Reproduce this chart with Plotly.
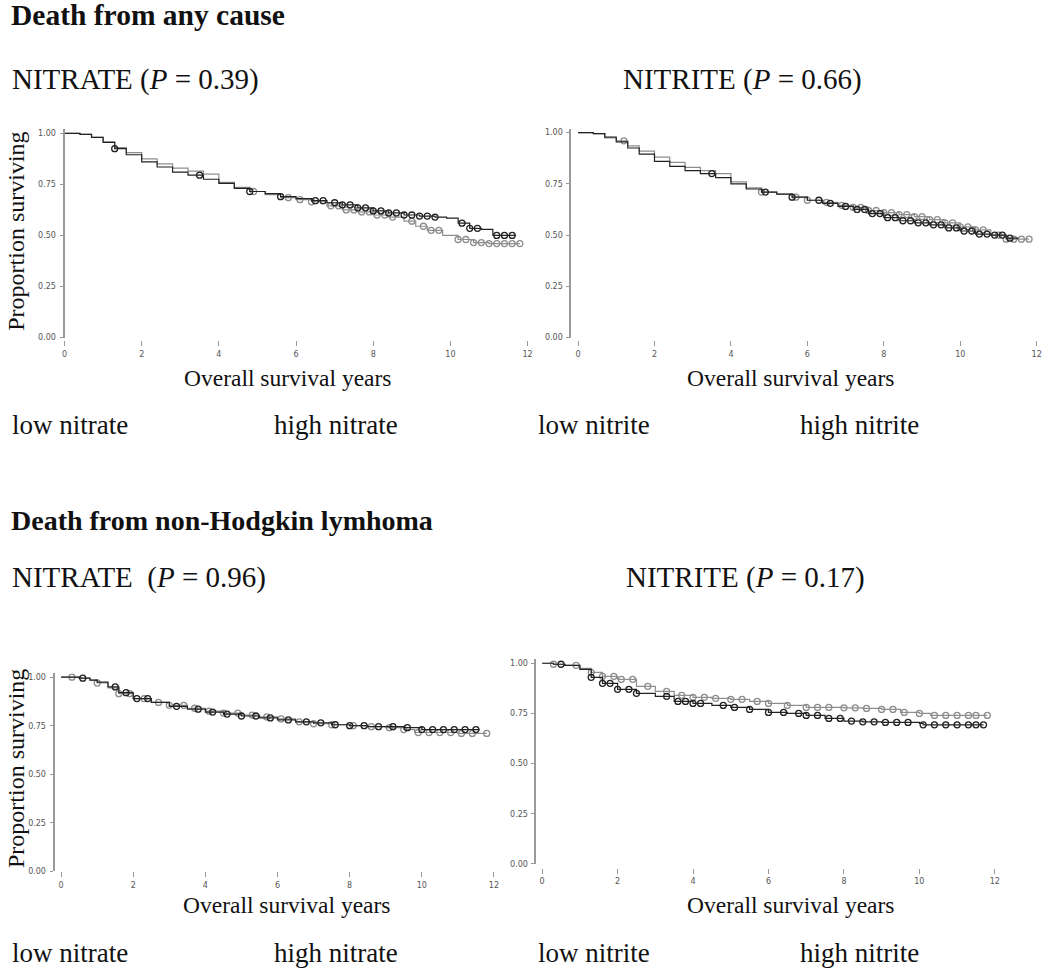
import numpy as np
import plotly.graph_objects as go

# ---------------- data ----------------
# Panel A: death from any cause, nitrate
a_low_t = [0, 0.4, 0.7, 1.0, 1.3, 1.6, 2.0, 2.4, 2.8, 3.2, 3.6, 4.0, 4.4, 4.8, 5.2, 5.6, 6.0, 6.4, 6.8, 7.2, 7.6, 8.0, 8.4, 8.8, 9.2, 9.6, 9.9, 10.2, 10.5, 10.8, 11.1, 11.7]
a_low_s = [1.0, 0.995, 0.98, 0.955, 0.925, 0.895, 0.86, 0.835, 0.81, 0.795, 0.775, 0.755, 0.73, 0.715, 0.705, 0.69, 0.68, 0.67, 0.66, 0.65, 0.635, 0.62, 0.61, 0.60, 0.595, 0.59, 0.585, 0.56, 0.535, 0.53, 0.50, 0.50]
a_high_t = [0, 0.4, 0.7, 1.0, 1.3, 1.6, 2.0, 2.4, 2.8, 3.2, 3.6, 4.0, 4.4, 4.8, 5.2, 5.6, 6.0, 6.4, 6.8, 7.2, 7.6, 8.0, 8.4, 8.8, 9.1, 9.4, 9.8, 10.2, 10.6, 11.0, 11.8]
a_high_s = [1.0, 0.995, 0.98, 0.96, 0.93, 0.905, 0.875, 0.85, 0.83, 0.815, 0.80, 0.76, 0.735, 0.715, 0.70, 0.685, 0.675, 0.665, 0.645, 0.625, 0.615, 0.60, 0.59, 0.57, 0.545, 0.525, 0.50, 0.48, 0.465, 0.46, 0.46]
a_low_cens = [1.3, 3.5, 4.8, 5.6, 6.5, 6.7, 7.0, 7.2, 7.4, 7.6, 7.8, 8.0, 8.2, 8.4, 8.6, 8.8, 9.0, 9.2, 9.4, 9.6, 10.3, 10.5, 10.7, 11.2, 11.4, 11.6]
a_high_cens = [4.9, 5.8, 6.1, 6.4, 6.9, 7.1, 7.3, 7.5, 7.7, 7.9, 8.1, 8.3, 8.5, 9.0, 9.3, 9.5, 9.7, 10.2, 10.4, 10.6, 10.8, 11.0, 11.2, 11.4, 11.6, 11.8]

# Panel B: death from any cause, nitrite
b_low_t = [0, 0.4, 0.7, 1.0, 1.3, 1.6, 2.0, 2.4, 2.8, 3.2, 3.6, 4.0, 4.4, 4.8, 5.2, 5.6, 6.0, 6.4, 6.8, 7.2, 7.6, 8.0, 8.4, 8.8, 9.2, 9.6, 10.0, 10.4, 10.8, 11.2, 11.5]
b_low_s = [1.0, 0.995, 0.975, 0.955, 0.925, 0.895, 0.86, 0.835, 0.815, 0.80, 0.78, 0.75, 0.725, 0.71, 0.70, 0.685, 0.67, 0.655, 0.64, 0.625, 0.605, 0.585, 0.57, 0.56, 0.55, 0.535, 0.52, 0.505, 0.50, 0.485, 0.48]
b_high_t = [0, 0.4, 0.7, 1.0, 1.3, 1.6, 2.0, 2.4, 2.8, 3.2, 3.6, 4.0, 4.4, 4.8, 5.2, 5.6, 6.0, 6.4, 6.8, 7.2, 7.6, 8.0, 8.4, 8.8, 9.2, 9.6, 10.0, 10.4, 10.8, 11.2, 11.8]
b_high_s = [1.0, 0.995, 0.98, 0.96, 0.935, 0.91, 0.88, 0.855, 0.83, 0.815, 0.80, 0.76, 0.73, 0.71, 0.70, 0.685, 0.67, 0.66, 0.645, 0.635, 0.62, 0.61, 0.60, 0.59, 0.575, 0.56, 0.54, 0.525, 0.50, 0.48, 0.48]
b_low_cens = [3.5, 4.9, 5.6, 6.3, 6.6, 7.0, 7.3, 7.5, 7.7, 7.9, 8.1, 8.3, 8.5, 8.7, 8.9, 9.1, 9.3, 9.5, 9.7, 9.9, 10.1, 10.3, 10.5, 10.7, 10.9, 11.1, 11.3]
b_high_cens = [1.2, 4.8, 5.7, 6.0, 6.5, 6.9, 7.2, 7.4, 7.6, 7.8, 8.0, 8.2, 8.4, 8.6, 8.8, 9.0, 9.2, 9.4, 9.6, 9.8, 10.0, 10.2, 10.4, 10.6, 11.0, 11.2, 11.4, 11.6, 11.8]

# Panel C: death from non-Hodgkin lymphoma, nitrate
c_low_t = [0, 0.5, 0.8, 1.0, 1.3, 1.6, 2.0, 2.5, 3.0, 3.5, 4.0, 4.5, 5.0, 5.5, 6.0, 6.5, 7.0, 7.5, 8.0, 8.5, 9.0, 9.5, 10.0, 10.5, 11.0, 11.6]
c_low_s = [1.0, 0.995, 0.985, 0.975, 0.95, 0.92, 0.89, 0.87, 0.85, 0.835, 0.82, 0.81, 0.80, 0.79, 0.78, 0.77, 0.765, 0.755, 0.75, 0.745, 0.745, 0.74, 0.73, 0.73, 0.73, 0.73]
c_high_t = [0, 0.5, 0.8, 1.0, 1.3, 1.6, 2.0, 2.5, 3.0, 3.5, 4.0, 4.5, 5.0, 5.5, 6.0, 6.5, 7.0, 7.5, 8.0, 8.5, 9.0, 9.5, 9.8, 10.5, 11.0, 11.8]
c_high_s = [1.0, 0.995, 0.985, 0.97, 0.945, 0.915, 0.89, 0.87, 0.855, 0.84, 0.825, 0.815, 0.805, 0.795, 0.785, 0.77, 0.76, 0.755, 0.75, 0.745, 0.74, 0.73, 0.715, 0.715, 0.71, 0.71]
c_low_cens = [0.6, 1.5, 1.8, 2.1, 2.4, 3.2, 3.8, 4.2, 4.6, 5.0, 5.4, 5.8, 6.3, 6.8, 7.2, 7.6, 8.0, 8.4, 8.8, 9.2, 9.6, 10.0, 10.3, 10.6, 10.9, 11.2, 11.5]
c_high_cens = [0.3, 1.0, 1.6, 1.9, 2.3, 2.7, 3.0, 3.4, 3.7, 4.1, 4.5, 4.9, 5.3, 5.7, 6.1, 6.6, 7.0, 7.5, 8.1, 8.6, 9.1, 9.5, 9.9, 10.2, 10.5, 10.8, 11.1, 11.4, 11.8]

# Panel D: death from non-Hodgkin lymphoma, nitrite
d_low_t = [0, 0.3, 0.6, 1.0, 1.3, 1.6, 2.0, 2.5, 3.0, 3.5, 4.0, 4.5, 5.0, 5.5, 6.0, 6.5, 7.0, 7.5, 8.0, 8.5, 9.0, 9.5, 10.0, 10.1, 11.7]
d_low_s = [1.0, 0.995, 0.99, 0.97, 0.93, 0.90, 0.87, 0.85, 0.835, 0.81, 0.80, 0.79, 0.78, 0.77, 0.755, 0.75, 0.74, 0.725, 0.712, 0.708, 0.705, 0.705, 0.70, 0.693, 0.693]
d_high_t = [0, 0.3, 0.6, 1.0, 1.3, 1.6, 2.0, 2.5, 3.0, 3.5, 4.0, 4.5, 5.0, 5.5, 6.0, 6.5, 7.0, 7.5, 8.0, 8.5, 9.0, 9.5, 10.0, 10.3, 11.8]
d_high_s = [1.0, 0.995, 0.99, 0.975, 0.955, 0.935, 0.92, 0.885, 0.86, 0.84, 0.83, 0.825, 0.82, 0.81, 0.80, 0.79, 0.78, 0.78, 0.778, 0.775, 0.77, 0.755, 0.75, 0.74, 0.74]
d_low_cens = [0.5, 1.3, 1.6, 1.8, 2.0, 2.3, 2.5, 3.3, 3.6, 3.8, 4.0, 4.2, 4.8, 5.1, 5.5, 6.0, 6.4, 6.8, 7.0, 7.3, 7.6, 7.9, 8.2, 8.5, 8.8, 9.1, 9.4, 9.7, 10.1, 10.4, 10.7, 11.0, 11.3, 11.5, 11.7]
d_high_cens = [0.3, 0.9, 1.3, 1.6, 1.9, 2.1, 2.4, 2.8, 3.3, 3.7, 4.0, 4.3, 4.6, 5.0, 5.3, 5.7, 6.0, 6.5, 7.0, 7.3, 7.6, 8.0, 8.3, 8.6, 9.0, 9.3, 9.6, 10.0, 10.4, 10.7, 11.0, 11.3, 11.5, 11.8]

x_ticks = [0, 2, 4, 6, 8, 10, 12]
y_ticks = [0.0, 0.25, 0.5, 0.75, 1.0]
y_tick_text = ["0.00", "0.25", "0.50", "0.75", "1.00"]

DARK = "#222222"
GRAY = "#8e8e8e"
SERIF = "Liberation Serif, Times New Roman, serif"
SANS = "DejaVu Sans, Arial, sans-serif"

W, H = 1050, 972


def px_x(p):
    return p / W


def px_y(p):
    return 1 - p / H


def step_at(t, s, c):
    t = np.asarray(t)
    s = np.asarray(s)
    idx = np.searchsorted(t, np.asarray(c), side="right") - 1
    return s[np.clip(idx, 0, len(s) - 1)]


fig = go.Figure()

# panel geometry in pixels
panels = [
    dict(k="", line_x=61.7, x0=61.7, ppy=38.7, y0=339.3, y1=134.0, tick_y=342,
         low=(a_low_t, a_low_s, a_low_cens), high=(a_high_t, a_high_s, a_high_cens)),
    dict(k="2", line_x=570.0, x0=576.7, ppy=38.33, y0=339.3, y1=133.3, tick_y=342,
         low=(b_low_t, b_low_s, b_low_cens), high=(b_high_t, b_high_s, b_high_cens)),
    dict(k="3", line_x=51.7, x0=58.3, ppy=36.17, y0=875.7, y1=680.7, tick_y=876,
         low=(c_low_t, c_low_s, c_low_cens), high=(c_high_t, c_high_s, c_high_cens)),
    dict(k="4", line_x=535.0, x0=540.7, ppy=37.83, y0=868.3, y1=666.7, tick_y=872,
         low=(d_low_t, d_low_s, d_low_cens), high=(d_high_t, d_high_s, d_high_cens)),
]

XMAX = 12.2
YMAX = 1.02
for p in panels:
    k = p["k"]
    xa = "x" + k
    ya = "y" + k
    xmin = -(p["x0"] - p["line_x"]) / p["ppy"]
    right = p["x0"] + XMAX * p["ppy"]
    ppu = p["y0"] - p["y1"]
    top = p["y0"] - YMAX * ppu
    for (t, s, cens), col in ((p["high"], GRAY), (p["low"], DARK)):
        fig.add_trace(go.Scatter(x=t, y=s, mode="lines", line=dict(color=col, width=1.2, shape="hv"),
                                 xaxis=xa, yaxis=ya, showlegend=False, hoverinfo="skip"))
        fig.add_trace(go.Scatter(x=cens, y=step_at(t, s, cens), mode="markers",
                                 marker=dict(symbol="circle-open", size=6, color=col, line=dict(width=1.3)),
                                 xaxis=xa, yaxis=ya, showlegend=False, hoverinfo="skip"))
    fig.update_layout(**{
        "xaxis" + k: dict(domain=[px_x(p["line_x"]), px_x(right)], range=[xmin, XMAX],
                          anchor="free", position=px_y(p["tick_y"]),
                          tickvals=x_ticks, ticks="outside", ticklen=5, tickcolor="#999", tickwidth=1,
                          ticklabelstandoff=1,
                          showline=False, showgrid=False, zeroline=False,
                          tickfont=dict(family=SANS, size=8, color="#555")),
        "yaxis" + k: dict(domain=[px_y(p["y0"]), px_y(top)], range=[0, YMAX], anchor=xa,
                          tickvals=y_ticks, ticktext=y_tick_text, ticks="outside", ticklen=3,
                          tickcolor="#999", showline=True, linecolor="#9a9a9a", linewidth=2,
                          ticklabelstandoff=2,
                          showgrid=False, zeroline=False,
                          tickfont=dict(family=SANS, size=8, color="#555")),
    })

# ---------------- text ----------------
ann = []


def text(s, x, y, size, bold=False, xanchor="left", angle=0):
    ann.append(dict(text=("<b>%s</b>" % s) if bold else s, x=px_x(x), y=px_y(y), xref="paper", yref="paper",
                    xanchor=xanchor, yanchor="middle", showarrow=False, textangle=angle, borderpad=0,
                    font=dict(family=SERIF, size=size, color="#111")))


text("Death from any cause", 7, 15, 29.5, bold=True)
text("NITRATE (<i>P</i> = 0.39)", 8, 80, 29)
text("NITRITE (<i>P</i> = 0.66)", 621, 80, 29)
text("Proportion surviving", 13, 232, 24, angle=-90, xanchor="center")
text("Overall survival years", 286, 380, 23.5, xanchor="center")
text("Overall survival years", 790, 380, 23.5, xanchor="center")
text("low nitrate", 8, 427, 27)
text("high nitrate", 271, 427, 27)
text("low nitrite", 536, 427, 27)
text("high nitrite", 798, 427, 27)

text("Death from non-Hodgkin lymhoma", 7, 523, 28, bold=True)
text("NITRATE&nbsp;&nbsp;(<i>P</i> = 0.96)", 8, 580, 29)
text("NITRITE (<i>P</i> = 0.17)", 624, 580, 29)
text("Proportion surviving", 13, 772, 24, angle=-90, xanchor="center")
text("Overall survival years", 285, 910, 23.5, xanchor="center")
text("Overall survival years", 790, 910, 23.5, xanchor="center")
text("low nitrate", 8, 958, 27)
text("high nitrate", 271, 958, 27)
text("low nitrite", 536, 958, 27)
text("high nitrite", 798, 958, 27)

fig.update_layout(width=W, height=H, margin=dict(l=0, r=0, t=0, b=0),
                  paper_bgcolor="white", plot_bgcolor="white", annotations=ann)

fig.write_html("out.html", config={"displayModeBar": False},
               post_script="document.body.style.margin='0px';document.body.style.overflow='hidden';")
